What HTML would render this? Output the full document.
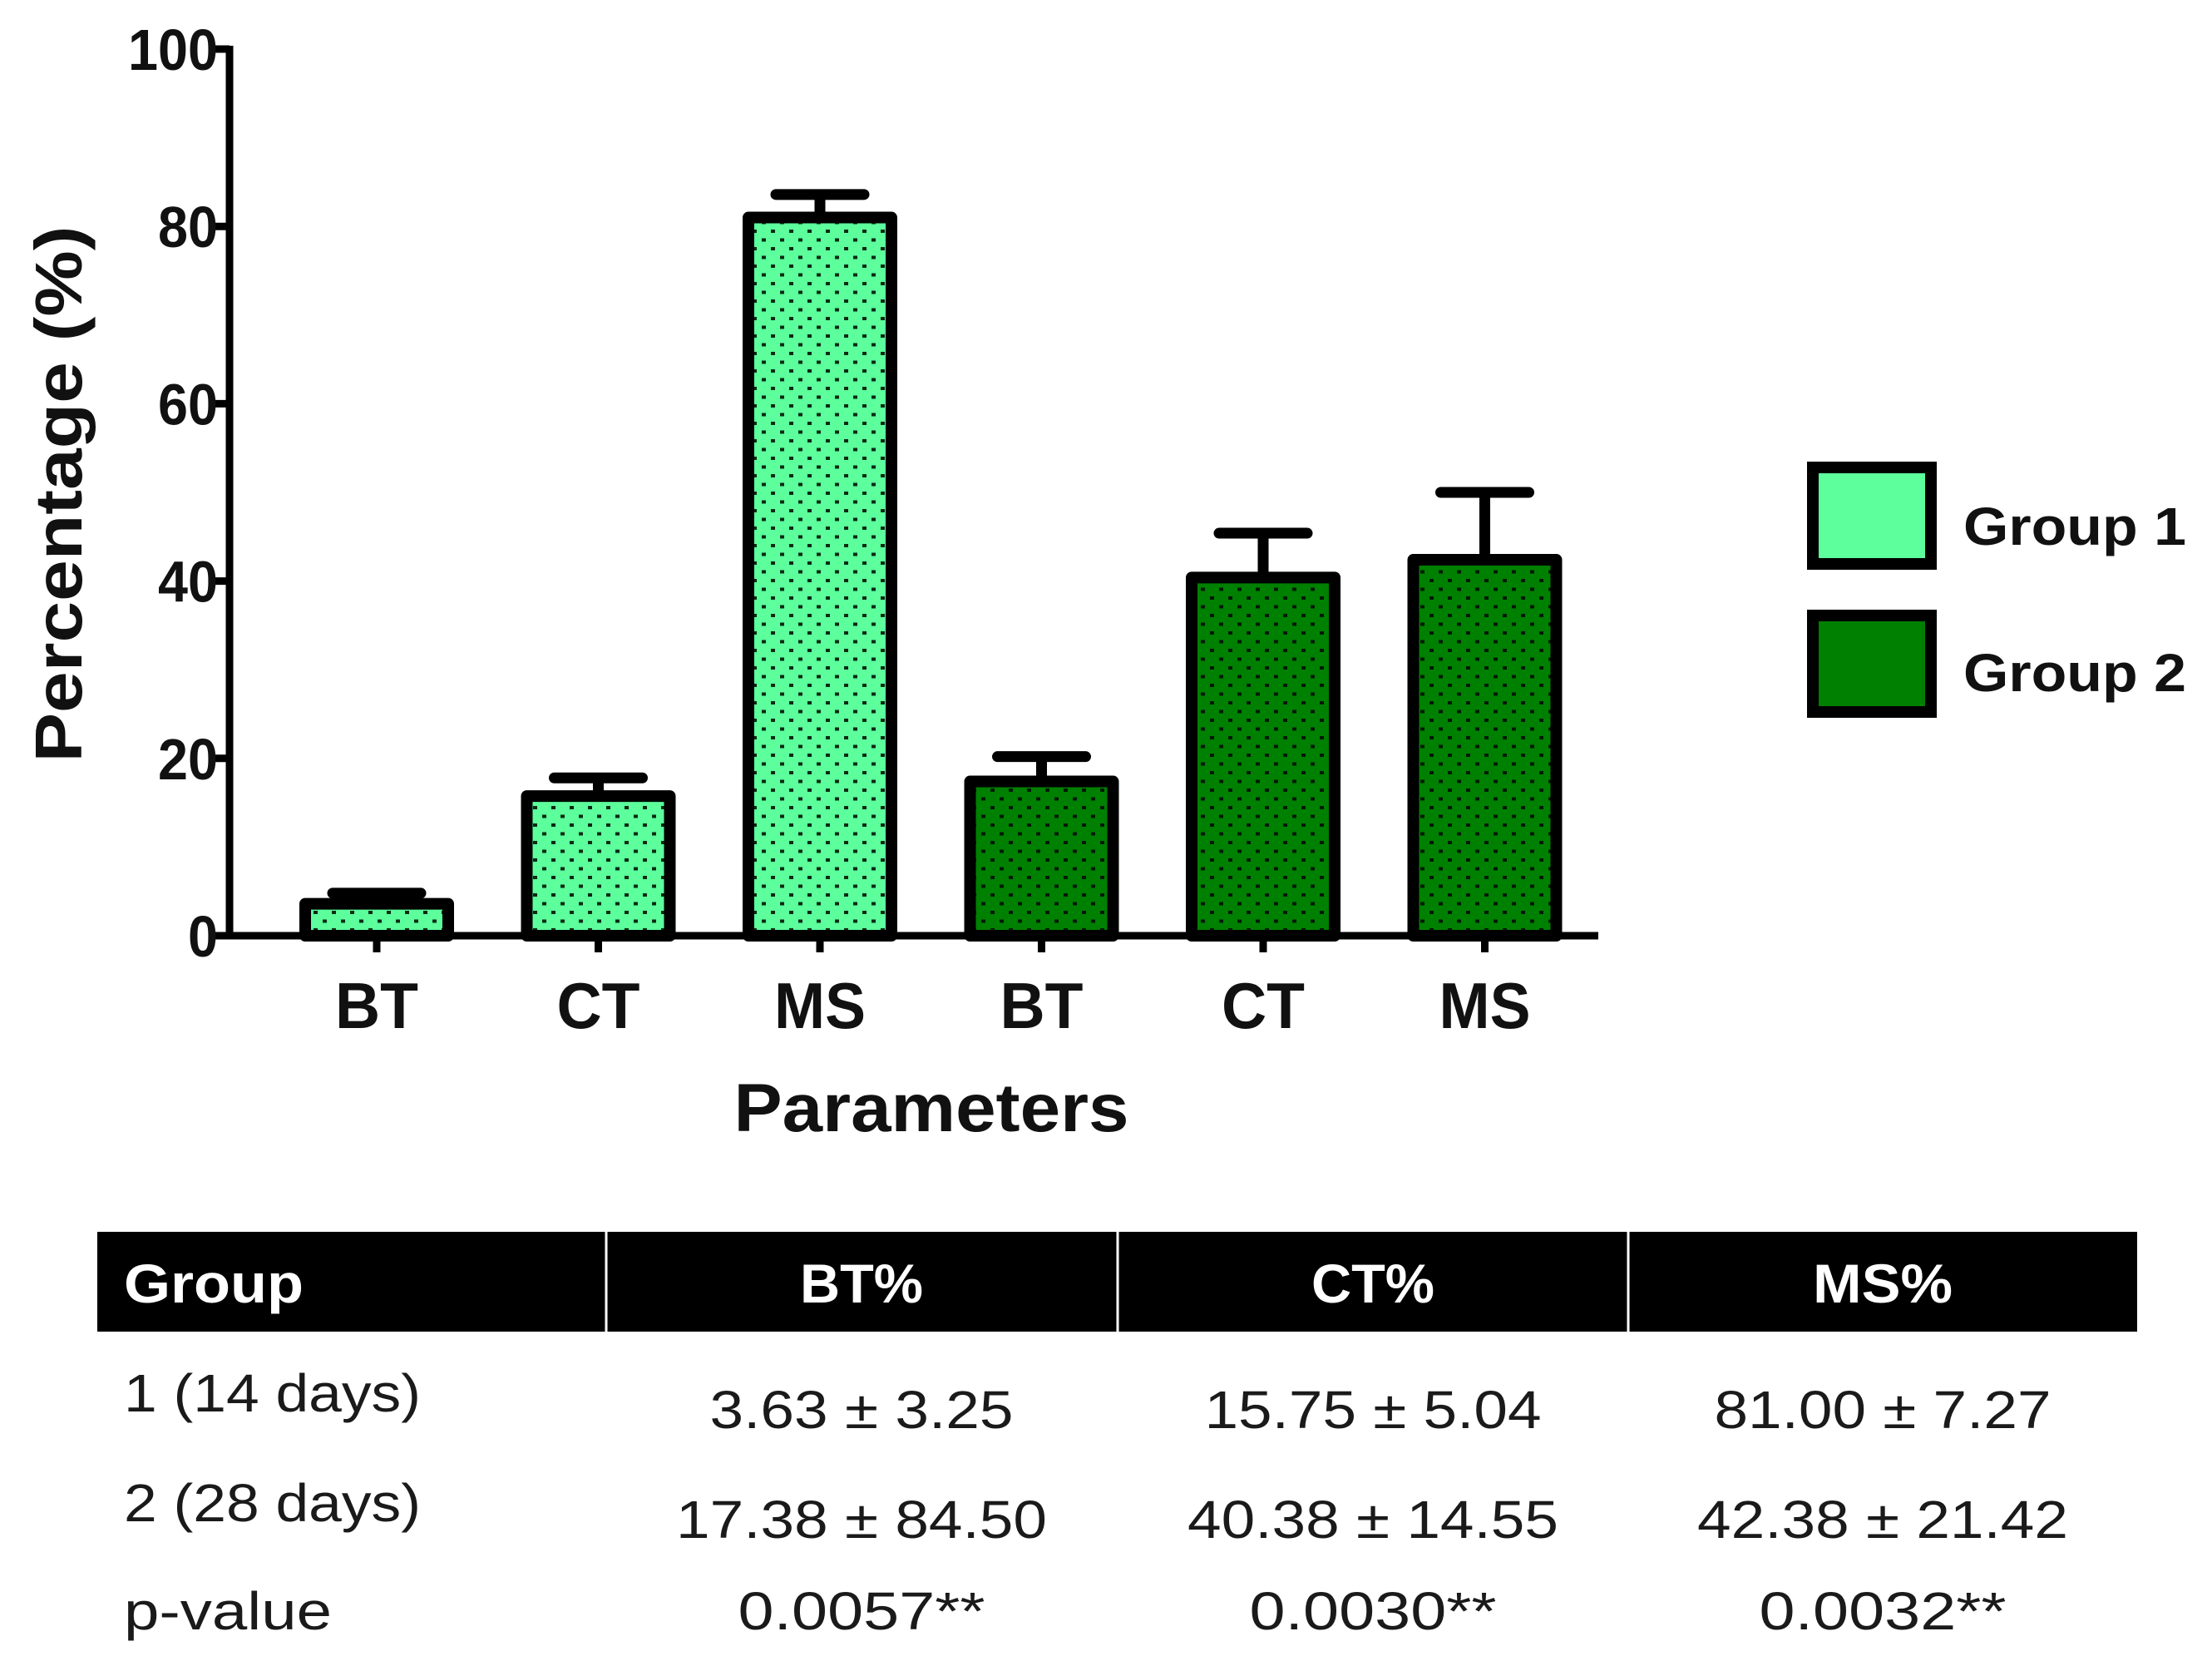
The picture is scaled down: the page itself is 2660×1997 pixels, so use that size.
<!DOCTYPE html>
<html><head><meta charset="utf-8"><style>
html,body{margin:0;padding:0;background:#fff;}
svg{display:block;font-family:"Liberation Sans",Arial,sans-serif;}
</style></head><body>
<svg id="fig" width="2660" height="1997" viewBox="0 0 2660 1997" xmlns="http://www.w3.org/2000/svg">
<defs>
<pattern id="dotsL" width="22" height="21" patternUnits="userSpaceOnUse" x="0" y="0">
<rect width="22" height="21" fill="#5cff9c"/>
<rect x="3" y="3" width="5" height="4" fill="#0b2a14"/>
<rect x="14" y="13.5" width="5" height="4" fill="#0b2a14"/>
</pattern>
<pattern id="dotsD" width="22" height="21" patternUnits="userSpaceOnUse" x="0" y="0">
<rect width="22" height="21" fill="#008000"/>
<rect x="3" y="3" width="5" height="4" fill="#021a05"/>
<rect x="14" y="13.5" width="5" height="4" fill="#021a05"/>
</pattern>
</defs>
<g id="chart"></g>
<g id="legend">
<rect x="2180" y="562" width="142" height="116" fill="#5cff9c" stroke="#000" stroke-width="14"/>
<text x="2361" y="655" font-size="64" font-weight="bold" textLength="268" lengthAdjust="spacingAndGlyphs" fill="#111">Group 1</text>
<rect x="2180" y="740" width="142" height="116" fill="#008000" stroke="#000" stroke-width="14"/>
<text x="2361" y="831" font-size="64" font-weight="bold" textLength="268" lengthAdjust="spacingAndGlyphs" fill="#111">Group 2</text>
</g>
<g id="table">
<rect x="117" y="1481" width="2453" height="120" fill="#000"/>
<line x1="729" y1="1481" x2="729" y2="1601" stroke="#fff" stroke-width="3"/>
<line x1="1344" y1="1481" x2="1344" y2="1601" stroke="#fff" stroke-width="3"/>
<line x1="1958" y1="1481" x2="1958" y2="1601" stroke="#fff" stroke-width="3"/>
<g font-size="66" font-weight="bold" fill="#fff">
<text x="149" y="1566" textLength="216" lengthAdjust="spacingAndGlyphs">Group</text>
<text x="1036" y="1566" text-anchor="middle" textLength="148" lengthAdjust="spacingAndGlyphs">BT%</text>
<text x="1651" y="1566" text-anchor="middle" textLength="148" lengthAdjust="spacingAndGlyphs">CT%</text>
<text x="2264" y="1566" text-anchor="middle" textLength="168" lengthAdjust="spacingAndGlyphs">MS%</text>
</g>
<g font-size="64" fill="#1a1a1a">
<text x="149" y="1697" textLength="357" lengthAdjust="spacingAndGlyphs">1 (14 days)</text>
<text x="1036" y="1717" text-anchor="middle" textLength="365" lengthAdjust="spacingAndGlyphs">3.63 ± 3.25</text>
<text x="1651" y="1717" text-anchor="middle" textLength="405" lengthAdjust="spacingAndGlyphs">15.75 ± 5.04</text>
<text x="2264" y="1717" text-anchor="middle" textLength="405" lengthAdjust="spacingAndGlyphs">81.00 ± 7.27</text>
<text x="149" y="1829" textLength="357" lengthAdjust="spacingAndGlyphs">2 (28 days)</text>
<text x="1036" y="1849" text-anchor="middle" textLength="446" lengthAdjust="spacingAndGlyphs">17.38 ± 84.50</text>
<text x="1651" y="1849" text-anchor="middle" textLength="446" lengthAdjust="spacingAndGlyphs">40.38 ± 14.55</text>
<text x="2264" y="1849" text-anchor="middle" textLength="446" lengthAdjust="spacingAndGlyphs">42.38 ± 21.42</text>
<text x="149" y="1959" textLength="250" lengthAdjust="spacingAndGlyphs">p-value</text>
<text x="1036" y="1959" text-anchor="middle" textLength="297" lengthAdjust="spacingAndGlyphs">0.0057**</text>
<text x="1651" y="1959" text-anchor="middle" textLength="297" lengthAdjust="spacingAndGlyphs">0.0030**</text>
<text x="2264" y="1959" text-anchor="middle" textLength="297" lengthAdjust="spacingAndGlyphs">0.0032**</text>
</g>
</g>
</svg>
<script>
const categories = ["BT", "CT", "MS", "BT", "CT", "MS"];
const groups = [1, 1, 1, 2, 2, 2];
const values = [3.6, 15.75, 81.0, 17.4, 40.4, 42.4];
const errorTops = [4.8, 17.8, 83.6, 20.2, 45.4, 50.0];
const yTicks = [0, 20, 40, 60, 80, 100];

const NS = "http://www.w3.org/2000/svg";
const g = document.getElementById("chart");
const X0 = 276, X1 = 1922, Y0 = 1125, Ytop = 59;
const yScale = v => Y0 - (Y0 - Ytop) * v / 100;
const firstCenter = 453, step = 266.5, barW = 172;
const xScale = i => firstCenter + i * step;
function mk(tag, attrs) {
  const e = document.createElementNS(NS, tag);
  for (const k in attrs) e.setAttribute(k, attrs[k]);
  g.appendChild(e);
  return e;
}
values.forEach((v, i) => {
  const cx = xScale(i);
  const top = yScale(v), et = yScale(errorTops[i]);
  const stem = mk("line", {x1: cx, x2: cx, y1: top, y2: et, stroke: "#000", "stroke-width": 13});
  
  
  const cap = mk("line", {x1: cx - 53, x2: cx + 53, y1: et, y2: et, stroke: "#000", "stroke-width": 13, "stroke-linecap": "round"});
  
  
  const r = mk("rect", {x: cx - barW / 2, y: top, width: barW, height: Y0 - top,
    fill: groups[i] === 1 ? "url(#dotsL)" : "url(#dotsD)", stroke: "#000", "stroke-width": 14, "stroke-linejoin": "round"});
  
  
});
const ya = mk("line", {x1: X0, x2: X0, y1: Ytop - 4, y2: Y0 + 4, stroke: "#000", "stroke-width": 9});


const xa = mk("line", {x1: X0 - 4, x2: X1, y1: Y0, y2: Y0, stroke: "#000", "stroke-width": 9});


yTicks.forEach(t => {
  const y = yScale(t);
  const tk = mk("line", {x1: X0 - 20, x2: X0, y1: y, y2: y, stroke: "#000", "stroke-width": 9});
  
  
  const lb = mk("text", {x: 262, y: y + 25, "text-anchor": "end", "font-size": 70, "font-weight": "bold", fill: "#111",
    textLength: String(t).length * 36, lengthAdjust: "spacingAndGlyphs"});
  lb.textContent = t;
  
  
});
categories.forEach((c, i) => {
  const cx = xScale(i);
  const tk = mk("line", {x1: cx, x2: cx, y1: Y0, y2: Y0 + 20, stroke: "#000", "stroke-width": 9});
  
  
  const lb = mk("text", {x: cx, y: 1236, "text-anchor": "middle", "font-size": 78, "font-weight": "bold", fill: "#111",
    textLength: c === "MS" ? 110 : 100, lengthAdjust: "spacingAndGlyphs"});
  lb.textContent = c;
  
  
});
const xt = mk("text", {x: 1120, y: 1360, "text-anchor": "middle", "font-size": 82, "font-weight": "bold", fill: "#111",
  textLength: 475, lengthAdjust: "spacingAndGlyphs"});
xt.textContent = "Parameters";


const yt = mk("text", {x: 0, y: 0, "text-anchor": "middle", "font-size": 80, "font-weight": "bold", fill: "#111",
  textLength: 645, lengthAdjust: "spacingAndGlyphs", transform: "translate(98,594) rotate(-90)"});
yt.textContent = "Percentage (%)";


</script>
</body></html>
